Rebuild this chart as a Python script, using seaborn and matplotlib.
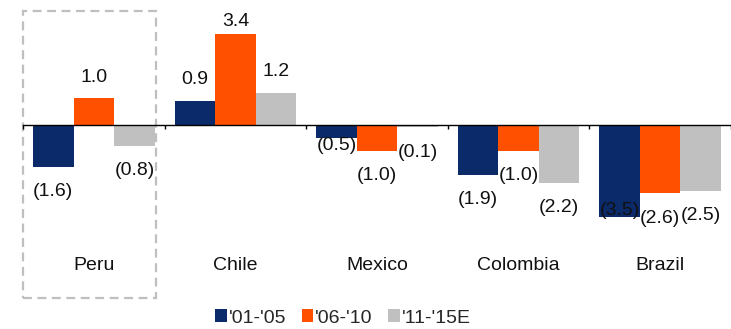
import matplotlib
matplotlib.use("Agg")
import matplotlib.pyplot as plt
from matplotlib.patches import Rectangle, Patch
import seaborn as sns
import pandas as pd

countries = ["Peru", "Chile", "Mexico", "Colombia", "Brazil"]
periods = ["'01-'05", "'06-'10", "'11-'15E"]
v_01_05 = [-1.6, 0.9, -0.5, -1.9, -3.5]
v_06_10 = [1.0, 3.4, -1.0, -1.0, -2.6]
v_11_15 = [-0.8, 1.2, -0.1, -2.2, -2.5]
colors = ["#0B2A6A", "#FF5000", "#C0C0C0"]

rows = []
for per, vals in zip(periods, [v_01_05, v_06_10, v_11_15]):
    for c, v in zip(countries, vals):
        rows.append({"country": c, "period": per, "value": v})
df = pd.DataFrame(rows)

sns.set_theme(style="white")
plt.rcParams["font.family"] = ["Liberation Sans", "DejaVu Sans"]

DPI = 100
W, H = 731, 329
fig = plt.figure(figsize=(W / DPI, H / DPI), dpi=DPI)
ax = fig.add_axes([23 / W, 0, (W - 23) / W, 1])

px_per_unit = 26.5
zero_px = 124.5
ax.set_ylim(-(H - zero_px) / px_per_unit, zero_px / px_per_unit)

sns.barplot(data=df, x="country", y="value", hue="period", order=countries,
            hue_order=periods, palette=colors, width=0.86, linewidth=0,
            saturation=1, ax=ax, legend=False, errorbar=None)
ax.set_xlim(-0.5, 4.5)

# baseline with category separator ticks
for s in ["top", "right", "left"]:
    ax.spines[s].set_visible(False)
ax.spines["bottom"].set_position(("data", 0))
ax.spines["bottom"].set_color("black")
ax.spines["bottom"].set_linewidth(1.0)
ax.set_xticks([-0.5, 0.5, 1.5, 2.5, 3.5, 4.5])
ax.set_xticklabels([])
ax.tick_params(axis="x", direction="out", length=3, width=1, color="black", bottom=True)
ax.set_yticks([])
ax.set_xlabel("")
ax.set_ylabel("")

# value labels (negative values shown in parentheses)
special = {("Chile", "'06-'10"): 13, ("Mexico", "'01-'05"): -8,
           ("Brazil", "'01-'05"): 7}
fs = 14
for bars, per in zip(ax.containers, periods):
    for bar, c in zip(bars, countries):
        v = df[(df.country == c) & (df.period == per)]["value"].iloc[0]
        x = bar.get_x() + bar.get_width() / 2
        txt = f"{v:.1f}" if v >= 0 else f"({abs(v):.1f})"
        off = special.get((c, per), 21 if v >= 0 else -25)
        ax.annotate(txt, (x, v), xytext=(0, off), textcoords="offset pixels",
                    ha="center", va="center", fontsize=fs, color="#111111")

# category names
for i, c in enumerate(countries):
    ax.text(i, -(265 - zero_px) / px_per_unit, c, ha="center", va="center",
            fontsize=fs, color="#111111")

# highlight box around Peru
x0 = -0.5
x1 = (156 - 23) / 141.6 - 0.5
y1 = (zero_px - 11) / px_per_unit
y0 = (zero_px - 298) / px_per_unit
ax.add_patch(Rectangle((x0, y0), x1 - x0, y1 - y0, fill=False,
                       edgecolor="#BFBFBF", linewidth=1.6,
                       linestyle=(0, (4, 2.5)), clip_on=False, zorder=0))

handles = [Patch(facecolor=col, edgecolor="none") for col in colors]
fig.legend(handles, periods, loc="center", bbox_to_anchor=(343 / W, 1 - 318 / H),
           ncol=3, frameon=False, fontsize=fs, handlelength=0.6, handleheight=0.6,
           handletextpad=0.1, columnspacing=0.8, borderpad=0)

fig.savefig("out.png", dpi=DPI)
